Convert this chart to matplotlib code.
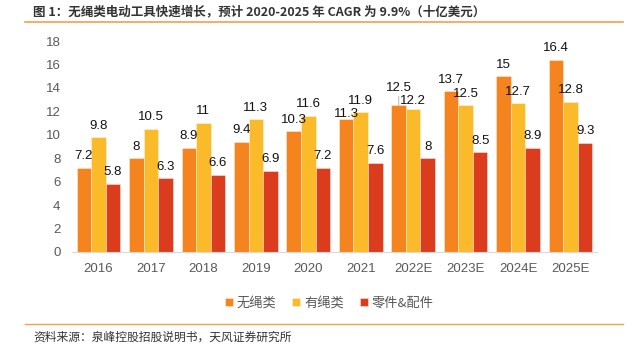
import matplotlib
matplotlib.use("Agg")
import matplotlib.pyplot as plt
import numpy as np

plt.rcParams['font.family'] = ['Liberation Sans', 'Noto Sans CJK SC', 'DejaVu Sans']

years = ['2016', '2017', '2018', '2019', '2020', '2021', '2022E', '2023E', '2024E', '2025E']
cordless = [7.2, 8, 8.9, 9.4, 10.3, 11.3, 12.5, 13.7, 15, 16.4]
corded = [9.8, 10.5, 11, 11.3, 11.6, 11.9, 12.2, 12.5, 12.7, 12.8]
parts = [5.8, 6.3, 6.6, 6.9, 7.2, 7.6, 8, 8.5, 8.9, 9.3]
series_names = ['无绳类', '有绳类', '零件&配件']
colors = ['#F5841F', '#FBBA2A', '#DC3C1E']

title = '图 1：无绳类电动工具快速增长，预计 2020-2025 年 CAGR 为 9.9%（十亿美元）'
source = '资料来源：泉峰控股招股说明书，天风证券研究所'

# vertical nudges (points) for crowded value labels: (series index, year index) -> dy
label_nudge = {(0, 5): -4.5, (0, 6): 4.5, (1, 6): -2.5}
leader_lines = {(0, 6)}

fig = plt.figure(figsize=(6.39, 3.46), dpi=100)
ax = fig.add_axes([0.113, 0.272, 0.821, 0.6095])

x = np.arange(len(years))
w = 0.277
cjk = ['Noto Sans CJK SC', 'DejaVu Sans']
base_dy = 4
for i, (vals, name, c) in enumerate(zip([cordless, corded, parts], series_names, colors)):
    bars = ax.bar(x + (i - 1) * w, vals, w, color=c, label=name,
                  edgecolor=(1, 1, 1, 0.45), linewidth=0.6)
    for j, (b, v) in enumerate(zip(bars, vals)):
        dy = base_dy + label_nudge.get((i, j), 0)
        props = None
        if (i, j) in leader_lines:
            props = dict(arrowstyle='-', color='#BFBFBF', lw=0.8, shrinkA=0, shrinkB=0)
        ax.annotate(f'{v:g}', (b.get_x() + b.get_width() / 2, v),
                    xytext=(0, dy), textcoords='offset points',
                    ha='center', va='bottom', fontsize=9.5, color='#111111',
                    arrowprops=props)

ax.set_xlim(-0.5, len(years) - 0.5)
ax.set_ylim(0, 18)
ax.set_yticks(range(0, 19, 2))
ax.set_xticks(x)
ax.set_xticklabels(years)
ax.tick_params(axis='both', length=0, colors='#595959', labelsize=9.5)
ax.tick_params(axis='y', pad=8.5)
ax.tick_params(axis='x', pad=8)
for s in ['top', 'right', 'left']:
    ax.spines[s].set_visible(False)
ax.spines['bottom'].set_color('#D9D9D9')

leg = ax.legend(loc='upper center', bbox_to_anchor=(0.49, -0.155), ncol=3, frameon=False,
                handlelength=0.6, handleheight=0.6, handletextpad=0.3, columnspacing=1.2,
                prop={'family': cjk, 'size': 9.5})
for t in leg.get_texts():
    t.set_color('#595959')

fig.text(0.052, 0.965, title, fontsize=9, fontweight='bold', color='#333333',
         family=cjk, ha='left', va='center')
fig.add_artist(plt.Line2D([0.039, 0.975], [0.935, 0.935], color='#F5A04A', lw=1.2))
fig.add_artist(plt.Line2D([0.039, 0.975], [0.063, 0.063], color='#F5A04A', lw=1.0))
fig.text(0.052, 0.026, source, fontsize=8.5, color='#333333', family=cjk,
         ha='left', va='center')

fig.savefig('out.png', dpi=100)
